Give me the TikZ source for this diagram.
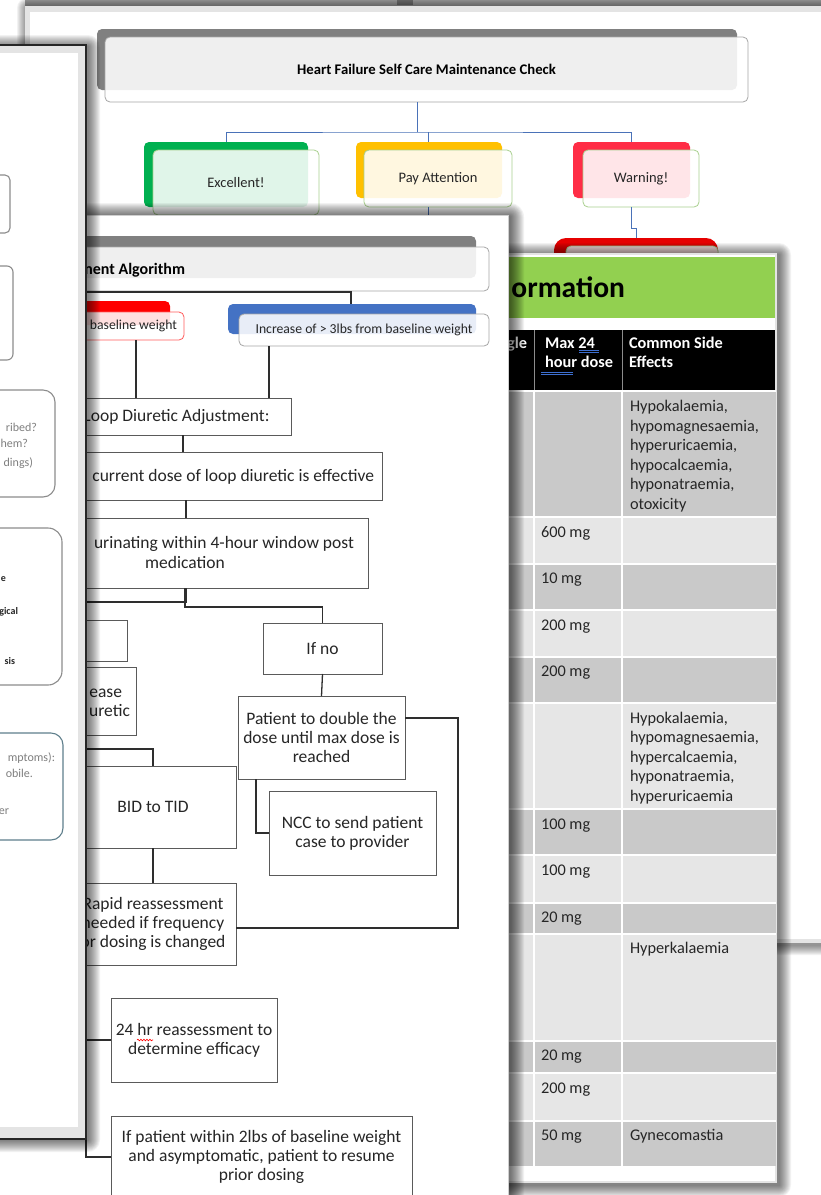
\documentclass[tikz,border=0pt]{standalone}
\usepackage{fontspec}
\setmainfont{Carlito}
\usetikzlibrary{decorations.pathmorphing}

\definecolor{barGray}{HTML}{808080}
\definecolor{frameGray}{HTML}{A6A6A6}
\definecolor{paperEdge}{HTML}{CFCFCF}
\definecolor{paperRim}{HTML}{E4E4E4}
\definecolor{stripGray}{HTML}{A4A4A4}
\definecolor{linkBlue}{HTML}{4A72B8}
\definecolor{okGreen}{HTML}{00B050}
\definecolor{careAmber}{HTML}{FFC000}
\definecolor{alertRed}{HTML}{FF2D46}
\definecolor{deepRed}{HTML}{E60000}
\definecolor{leafGreen}{HTML}{A9D08E}
\definecolor{flowLine}{HTML}{5A5A5A}
\definecolor{inkDark}{HTML}{262626}
\definecolor{tabGreen}{HTML}{92D050}
\definecolor{rowDark}{HTML}{C9C9C9}
\definecolor{rowLight}{HTML}{E6E6E6}
\definecolor{sideGray}{HTML}{8C8C8C}
\definecolor{noteGray}{HTML}{7F7F7F}
\definecolor{tealLine}{HTML}{5F7F8C}
\definecolor{steelBlue}{HTML}{4472C4}
\definecolor{flagRed}{HTML}{FF0000}
\definecolor{flagEdge}{HTML}{FF5B5B}
\definecolor{checkBlue}{HTML}{3D6FD0}

% soft drop shadow behind a sheet: x1 y1 x2 y2 spread
\newcommand{\paperShadow}[5]{%
  \foreach \k in {1,...,#5}{%
    \fill[black, opacity=0.05, rounded corners=\k pt]
      ({#1-\k+2},{#2-\k+2}) rectangle ({#3+\k+2},{#4+\k+2});}}
% several lines in one table cell, first baseline on the anchor
\newcommand{\cellLines}[1]{\parbox[t]{160pt}{\raggedright #1}}

\tikzset{
  every node/.style={inner sep=0pt, outer sep=0pt, text=inkDark},
  bodytext/.style={font=\fontsize{17.5}{19.3}\selectfont},
  smalltext/.style={font=\fontsize{13.7}{15}\selectfont},
  celltext/.style={font=\fontsize{16.3}{19.6}\selectfont, anchor=base west},
  headtext/.style={font=\bfseries\fontsize{16.3}{19.6}\selectfont, text=white, anchor=base west},
  sidenote/.style={font=\fontsize{12}{14}\selectfont, text=noteGray, anchor=base east},
  sidebold/.style={font=\bfseries\fontsize{10}{12}\selectfont, text=inkDark, anchor=base east},
  flowbox/.style={draw=flowLine, line width=0.9pt, fill=white, align=center, bodytext, anchor=north west},
  slab/.style={rounded corners=5pt, anchor=north west},
  veil/.style={rounded corners=5pt, fill=white, fill opacity=0.88, text opacity=1, line width=0.8pt, anchor=north west},
  sidebox/.style={draw=sideGray, line width=1.1pt, anchor=north west},
  bluelink/.style={draw=linkBlue, line width=0.8pt},
  wire/.style={draw=black!82, line width=1.3pt},
}

\begin{document}
\begin{tikzpicture}[x=1pt, y=-1pt]
\useasboundingbox (0,0) rectangle (821,1195);
\fill[white] (0,0) rectangle (821,1195);

% ================= back sheet: self care check =================
\fill[stripGray] (25,0) rectangle (821,6);
\fill[black!55] (397,0) rectangle (413,5);
\paperShadow{25}{6}{900}{943}{10}
\fill[paperRim] (25,6) rectangle (900,943);
\fill[white] (30,12) rectangle (900,939);

\node[slab, fill=barGray, minimum width=640pt, minimum height=61pt] (hfbar) at (97,29) {};
\node[veil, draw=frameGray, minimum width=643pt, minimum height=65pt,
      font=\bfseries\fontsize{14.7}{16}\selectfont, text=black] (hf) at (105,37)
      {Heart Failure Self Care Maintenance Check};

\node[slab, fill=okGreen, minimum width=164pt, minimum height=65pt] (exbar) at (144,142) {};
\node[slab, fill=careAmber, minimum width=146pt, minimum height=56pt] (pabar) at (356,142) {};
\node[slab, fill=alertRed, minimum width=117pt, minimum height=56pt] (wnbar) at (573,142) {};
\node[veil, draw=leafGreen, minimum width=166pt, minimum height=65pt,
      font=\fontsize{14.5}{16}\selectfont] (ex) at (153,150) {Excellent!};
\node[veil, draw=leafGreen, minimum width=148pt, minimum height=57pt,
      font=\fontsize{14.5}{16}\selectfont] (pa) at (364,150) {Pay Attention};
\node[veil, draw=leafGreen, minimum width=116pt, minimum height=57pt,
      font=\fontsize{14.5}{16}\selectfont] (wn) at (583,150) {Warning!};

\coordinate (fork) at (417,132);
\draw[bluelink] (hf.south -| fork) -- (fork);
\draw[bluelink] (exbar.north -| 226,0) |- (fork) -| (wnbar.north -| 631,0);
\draw[bluelink] (fork -| 428,0) -- (pabar.north -| 428,0);

\node[slab, fill=deepRed, rounded corners=12pt, minimum width=164pt, minimum height=40pt] (wnkidbar) at (554,238) {};
\node[veil, draw=leafGreen, minimum width=152pt, minimum height=34pt] (wnkid) at (566,246) {};
\draw[bluelink] (ex.south -| 226,0) -- ++(0,4);
\draw[bluelink] (pa.south -| 428,0) -- ++(0,10);
\coordinate (wnjog) at (631,228);
\draw[bluelink] (wn.south -| wnjog) -- (wnjog) -- (636,228) -- (wnkidbar.north -| 636,0);

% ================= medication table sheet =================
\paperShadow{490}{253}{777}{1183}{12}
\fill[paperRim] (490,253) rectangle (777,1183);
\fill[white] (490,255) rectangle (775,1181);
\node[anchor=north west, fill=tabGreen, minimum width=285pt, minimum height=61pt] (tabband) at (490,257) {};
\node[anchor=base east, font=\bfseries\fontsize{29.5}{32}\selectfont, text=black] (tabtitle) at (625,297) {ormation};
\node[anchor=north west, fill=black, minimum width=285pt, minimum height=60pt] (tabhead) at (490,330) {};
\draw[black!45, line width=1pt] (534,330) -- (534,390) (622,330) -- (622,390);

\foreach \ra/\rb/\rc in {391/517/rowDark, 517/564/rowLight, 564/610/rowDark, 610/657/rowLight,
    657/703/rowDark, 703/809/rowLight, 809/855/rowDark, 855/903/rowLight, 903/934/rowDark,
    934/1041/rowLight, 1041/1073/rowDark, 1073/1121/rowLight, 1121/1166/rowDark}{
  \fill[\rc] (490,\ra) rectangle (776,\rb);
  \draw[white, line width=1.2pt] (490,\ra) -- (776,\ra);
}
\draw[white, line width=1.5pt] (534,391) -- (534,1166) (622,391) -- (622,1166);

\node[headtext, anchor=base east] (hsingle) at (527,348) {gle};
\node[headtext] (hmax) at (545,348) {\cellLines{Max 24\\hour dose}};
\node[headtext] (hside) at (629,348) {\cellLines{Common Side\\Effects}};
\draw[checkBlue, line width=0.8pt] (579,350) -- (599,350) (579,352.5) -- (599,352.5)
      (541,372) -- (573,372) (541,374.5) -- (573,374.5);

\node[celltext] (se1) at (630,411.5) {\cellLines{Hypokalaemia,\\hypomagnesaemia,\\hyperuricaemia,\\hypocalcaemia,\\hyponatraemia,\\otoxicity}};
\node[celltext] (d2) at (541,537) {600 mg};
\node[celltext] (d3) at (541,583) {10 mg};
\node[celltext] (d4) at (541,630) {200 mg};
\node[celltext] (d5) at (541,676) {200 mg};
\node[celltext] (se6) at (630,723) {\cellLines{Hypokalaemia,\\hypomagnesaemia,\\hypercalcaemia,\\hyponatraemia,\\hyperuricaemia}};
\node[celltext] (d7) at (541,829) {100 mg};
\node[celltext] (d8) at (541,875) {100 mg};
\node[celltext] (d9) at (541,922) {20 mg};
\node[celltext] (se10) at (630,953) {Hyperkalaemia};
\node[celltext] (d11) at (541,1060) {20 mg};
\node[celltext] (d12) at (541,1093) {200 mg};
\node[celltext] (d13) at (541,1140) {50 mg};
\node[celltext] (se13) at (630,1140) {Gynecomastia};

% ================= adjustment algorithm sheet =================
\paperShadow{-40}{215}{508}{1230}{14}
\fill[white] (-40,215) rectangle (508,1230);
\draw[paperEdge, line width=1pt] (-40,215) -- (508,215) -- (508,1230);

\node[slab, fill=barGray, minimum width=436pt, minimum height=42pt] (algbar) at (40,236) {};
\node[veil, draw=frameGray, minimum width=449pt, minimum height=44pt] (alg) at (40,247) {};
\node[anchor=base east, font=\bfseries\fontsize{16}{18}\selectfont, text=black] (algtext) at (185,274) {ment Algorithm};

\node[slab, fill=flagRed, minimum width=130pt, minimum height=24pt] (lossbar) at (40,301) {};
\node[veil, draw=flagEdge, minimum width=144pt, minimum height=28pt] (loss) at (40,312) {};
\node[smalltext, anchor=base east] (losstext) at (177,329) {baseline weight};
\node[slab, fill=steelBlue, minimum width=248pt, minimum height=30pt] (gainbar) at (228,304) {};
\node[veil, draw=frameGray, minimum width=250pt, minimum height=32pt, smalltext] (gain) at (239,314)
      {Increase of > 3lbs from baseline weight};

\coordinate (algfoot) at (40,292);
\draw[wire] (algfoot) -| (gainbar.north -| 351,0);

\node[flowbox, minimum width=229pt, minimum height=37pt] (loop) at (62,398) {Loop Diuretic Adjustment:};
\draw[wire] (loss.south -| 136,0) -- (loop.north -| 136,0);
\draw[wire] (gain.south -| 269,0) -- (loop.north -| 269,0);

\node[flowbox, minimum width=342pt, minimum height=48pt] (cur) at (40,452) {};
\node[bodytext, anchor=base east] (curtext) at (374,481) {current dose of loop diuretic is effective};
\draw[wire] (loop.south -| 183,0) -- (cur.north -| 183,0);

\node[flowbox, minimum width=328pt, minimum height=70pt] (urin) at (40,518) {};
\node[bodytext, anchor=base east] (urintext) at (354,548) {urinating within 4-hour window post};
\node[bodytext, anchor=base] (urintext2) at (185,568) {medication};
\draw[wire] (cur.south -| 186,0) -- (urin.north -| 186,0);

\node[flowbox, minimum width=87pt, minimum height=41pt] (yesbox) at (40,620) {};
\node[flowbox, minimum width=119pt, minimum height=51pt] (ifno) at (263,623) {If no};
\draw[wire] (urin.south -| 186,0) |- (40,602);
\draw[wire] (urin.south -| 185,0) -- (185,607) -| (ifno.north);

\node[flowbox, minimum width=96pt, minimum height=68pt] (raise) at (40,667) {};
\node[bodytext, anchor=base east] (raisetext) at (122,697) {ease};
\node[bodytext, anchor=base east] (raisetext2) at (130,716) {uretic};

\node[flowbox, minimum width=167pt, minimum height=83pt] (double) at (238,696)
      {Patient to double the\\dose until max dose is\\reached};
\draw[wire] (ifno.south) -- (double.north);

\node[flowbox, minimum width=167pt, minimum height=84pt] (ncc) at (269,791)
      {NCC to send patient\\case to provider};
\draw[wire] (double.south -| 256,0) |- (ncc.west);

\node[flowbox, minimum width=166pt, minimum height=82pt] (bid) at (70,766) {BID to TID};
\draw[wire] (40,749) -| (bid.north -| 153,0);

\node[flowbox, minimum width=166pt, minimum height=82pt] (rapid) at (70,883)
      {Rapid reassessment\\needed if frequency\\or dosing is changed};
\draw[wire] (bid.south -| 153,0) -- (rapid.north -| 153,0);
\draw[wire] (double.east |- 0,718) -- (458,718) -- (458,928) -- (rapid.east |- 0,928);

\node[flowbox, minimum width=166pt, minimum height=84pt] (recheck) at (111,998)
      {24 hr reassessment to\\determine efficacy};
\draw[flagRed, line width=0.6pt, decorate, decoration={snake, amplitude=0.8pt, segment length=3pt}]
      (137,1040) -- (153,1040);
\node[flowbox, minimum width=301pt, minimum height=82pt] (resume) at (111,1116)
      {If patient within 2lbs of baseline weight\\and asymptomatic, patient to resume\\prior dosing};
\coordinate (spine) at (86,990);
\draw[wire] (spine) |- (recheck.west);
\draw[wire] (spine) |- (resume.west);

% ================= front sheet on the left =================
\paperShadow{-20}{45}{86}{1138}{12}
\fill[black!85] (-20,44) rectangle (87,1140);
\fill[paperRim] (-20,46) rectangle (85,1138);
\fill[white] (-20,53) rectangle (78,1127);

\node[sidebox, rounded corners=5pt, minimum width=40pt, minimum height=58pt] (side1) at (-30,175) {};
\node[sidebox, rounded corners=6pt, minimum width=43pt, minimum height=94pt] (side2) at (-30,266) {};
\node[sidebox, rounded corners=12pt, minimum width=85pt, minimum height=107pt] (side3) at (-30,390) {};
\node[sidebox, rounded corners=14pt, minimum width=92pt, minimum height=157pt] (side4) at (-30,528) {};
\node[sidebox, draw=tealLine, rounded corners=12pt, minimum width=93pt, minimum height=107pt] (side5) at (-30,733) {};

\node[sidenote] (n31) at (37,431) {ribed?};
\node[sidenote] (n32) at (28,447) {hem?};
\node[sidenote] (n33) at (33,466) {dings)};
\node[sidebold] (n41) at (6,581) {e};
\node[sidebold] (n42) at (18,614) {gical};
\node[sidebold] (n43) at (15,664) {sis};
\node[sidenote] (n51) at (55,761) {mptoms):};
\node[sidenote] (n52) at (33,777) {obile.};
\node[sidenote] (n53) at (9,814) {er};
\end{tikzpicture}
\end{document}
